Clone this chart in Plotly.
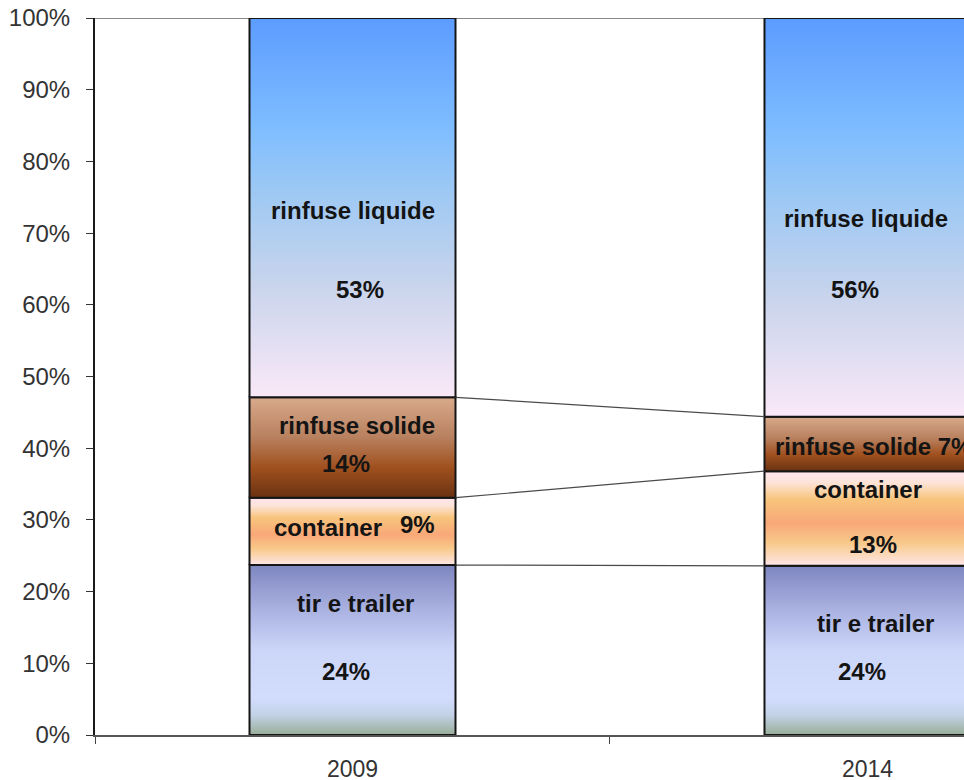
import plotly.graph_objects as go

# ---------------- data ----------------
years = ["2009", "2014"]
categories = ["tir e trailer", "container", "rinfuse solide", "rinfuse liquide"]
share_2009 = [23.7, 9.4, 14.0, 52.9]
share_2014 = [23.6, 13.2, 7.6, 55.6]
labels_2009 = ["24%", "9%", "14%", "53%"]
labels_2014 = ["24%", "13%", "7%", "56%"]
y_tick_values = [0, 10, 20, 30, 40, 50, 60, 70, 80, 90, 100]
y_tick_labels = ["0%", "10%", "20%", "30%", "40%", "50%", "60%", "70%", "80%", "90%", "100%"]

# ---------------- styles ----------------
BAR_HALF = 0.2
gradients = {
    "tir e trailer": [[0.0, "#98AE98"], [0.12, "#C4D2E8"], [0.22, "#D2DDFD"],
                      [0.5, "#CCD6F8"], [0.75, "#A8B0E0"], [1.0, "#7E86C0"]],
    "container": [[0.0, "#FFE6EA"], [0.12, "#FBD8B8"], [0.25, "#F8C888"],
                  [0.45, "#F8A878"], [0.7, "#F8C47C"], [0.88, "#FDE4D8"], [1.0, "#FFE4EC"]],
    "rinfuse solide": [[0.0, "#6A3212"], [0.3, "#A0501E"], [0.6, "#B8805E"],
                       [1.0, "#D8AA8C"]],
    "rinfuse liquide": [[0.0, "#FAE8F8"], [0.3, "#C8D4EC"], [0.55, "#9CC8F4"],
                        [0.7, "#80BEFF"], [1.0, "#5C9CFF"]],
}

series = [share_2009, share_2014]

fig = go.Figure()

cums = []
for i, shares in enumerate(series):
    base = 0.0
    cum = [0.0]
    for cat, v in zip(categories, shares):
        top = base + v
        x0, x1 = i - BAR_HALF, i + BAR_HALF
        fig.add_trace(go.Scatter(
            x=[x0, x1, x1, x0, x0], y=[base, base, top, top, base],
            mode="lines", fill="toself",
            fillgradient=dict(type="vertical", colorscale=gradients[cat]),
            line=dict(color="#151515", width=2),
            name=f"{cat} {years[i]}", hoverinfo="skip", showlegend=False))
        base = top
        cum.append(top)
    cums.append(cum)

# series (connector) lines between bars
for k in range(1, len(categories)):
    fig.add_trace(go.Scatter(
        x=[0 + BAR_HALF, 1 - BAR_HALF], y=[cums[0][k], cums[1][k]],
        mode="lines", line=dict(color="#4A4A4A", width=1.2),
        showlegend=False, hoverinfo="skip"))

# label placement (x offset from bar center, y in %)
label_layout = {
    0: [("rinfuse liquide", 0.0, 73.2), ("53%", 0.015, 62.2),
        ("rinfuse solide", 0.009, 43.2), ("14%", -0.013, 37.8),
        ("container", -0.048, 28.9), ("9%", 0.127, 29.4),
        ("tir e trailer", 0.005, 18.3), ("24%", -0.013, 8.9)],
    1: [("rinfuse liquide", -0.003, 72.1), ("56%", -0.024, 62.2),
        ("container", 0.001, 34.2), ("13%", 0.011, 26.6),
        ("tir e trailer", 0.015, 15.6), ("24%", -0.011, 8.9)],
}
lab_font = dict(family="Liberation Sans, Arial, sans-serif", size=24, color="#141414")
for i, items in label_layout.items():
    for txt, dx, y in items:
        fig.add_annotation(x=i + dx, y=y, text=f"<b>{txt}</b>", showarrow=False,
                           font=lab_font, xanchor="center", yanchor="middle")
# 2014 rinfuse solide label on one line, left aligned
fig.add_annotation(x=1 - BAR_HALF + 0.016, y=40.3,
                   text=f"<b>{categories[2]} {labels_2014[2]}</b>",
                   showarrow=False, font=lab_font, xanchor="left", yanchor="middle")

# top line at 100%
fig.add_shape(type="line", xref="paper", x0=0, x1=1, yref="y", y0=100, y1=100,
              line=dict(color="#8A8A8A", width=2), layer="below")

tick_font = dict(family="Liberation Sans, Arial, sans-serif", size=24, color="#333333")
fig.update_layout(
    width=964, height=780,
    margin=dict(l=95, r=0, t=18, b=45, autoexpand=False),
    paper_bgcolor="white", plot_bgcolor="white",
    showlegend=False,
    xaxis=dict(range=[-0.5, 1.1874], tickvals=[0, 1], ticktext=years,
               ticks="", showgrid=False, zeroline=False, automargin=False,
               showline=True, linecolor="#555555", linewidth=2,
               tickfont=dict(tick_font, size=23), ticklabelstandoff=12,
               ticklabeloverflow="allow",
               minor=dict(tickvals=[-0.5, 0.5, 1.5], ticks="outside", ticklen=7,
                          tickcolor="#444444", tickwidth=1, showgrid=False)),
    yaxis=dict(range=[0, 100], tickvals=y_tick_values, ticktext=y_tick_labels,
               ticks="outside", ticklen=7, tickcolor="#333333", tickwidth=1,
               showgrid=False, zeroline=False, automargin=False,
               showline=True, linecolor="#1A1A1A", linewidth=2,
               tickfont=tick_font, ticklabelstandoff=11,
               ticklabeloverflow="allow"),
)

fig.write_html("out.html", config={"displayModeBar": False},
               post_script="document.body.style.margin='0';")
